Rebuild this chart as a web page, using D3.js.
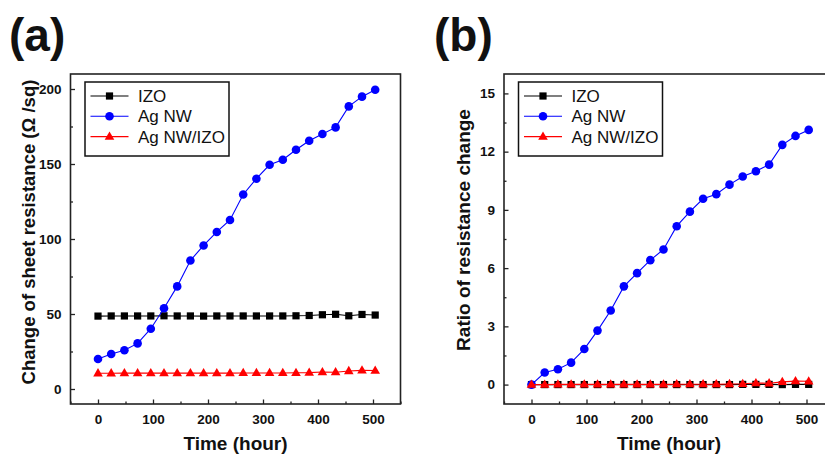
<!DOCTYPE html>
<html lang="en">
<head>
    <meta charset="UTF-8">
    <title>Sheet resistance vs time</title>
    <script src="https://d3js.org/d3.v7.min.js"></script>
    <style>
        body { margin: 0; background: #fff; }
        text { font-family: "Liberation Sans", Arial, sans-serif; }
    </style>
</head>
<body>
    <script>
        // time points (hours), every 24 h
        var hours = [0, 24, 48, 72, 96, 120, 144, 168, 192, 216, 240, 264, 288, 312, 336, 360, 384, 408, 432, 456, 480, 504];

        // (a) change of sheet resistance (ohm/sq)
        var izoA = [48.6, 48.7, 48.7, 48.7, 48.7, 48.8, 48.7, 48.7, 48.6, 48.7, 48.7, 48.7, 48.7, 48.7, 48.7, 48.8, 49.0, 49.5, 49.8, 48.8, 49.7, 49.3];
        var agnwA = [20, 23.3, 25.8, 30.4, 40.2, 53.8, 68.4, 85.7, 95.7, 104.7, 112.7, 129.7, 140.2, 149.5, 152.8, 159.5, 165.5, 170, 174.4, 188.4, 194.9, 199.5];
        var agnwIzoA = [10.5, 10.5, 10.6, 10.6, 10.6, 10.6, 10.6, 10.6, 10.6, 10.6, 10.6, 10.7, 10.7, 10.7, 10.7, 10.8, 10.9, 11.3, 11.2, 12.0, 12.4, 12.3];

        // (b) ratio of resistance change
        var izoB = [0, 0, 0, 0, 0, 0, 0, 0, 0, 0, 0, 0, 0, 0, 0, 0, 0.01, 0.01, 0.01, 0, 0.01, 0.01];
        var agnwB = [0, 0.62, 0.79, 1.13, 1.83, 2.78, 3.82, 5.06, 5.74, 6.41, 6.96, 8.16, 8.91, 9.57, 9.81, 10.30, 10.72, 10.99, 11.33, 12.35, 12.81, 13.12];
        var agnwIzoB = [0, 0, 0.01, 0.01, 0.01, 0.01, 0.01, 0.01, 0.01, 0.01, 0.01, 0.02, 0.02, 0.02, 0.02, 0.03, 0.04, 0.08, 0.07, 0.14, 0.18, 0.17];

        var seriesNames = ['IZO', 'Ag NW', 'Ag NW/IZO'];
        var seriesColors = ['#000000', '#0000ff', '#ff0000'];
        var seriesShapes = ['square', 'circle', 'triangle'];

        var xTicks = [0, 100, 200, 300, 400, 500];
        var xMinor = [-50, 50, 150, 250, 350, 450, 550];
        var yTicksA = [0, 50, 100, 150, 200];
        var yMinorA = [25, 75, 125, 175];
        var yTicksB = [0, 3, 6, 9, 12, 15];
        var yMinorB = [1.5, 4.5, 7.5, 10.5, 13.5];

        var svg = d3.select('body').append('svg')
            .attr('width', 825)
            .attr('height', 455);

        function marker(g, shape, color, cx, cy) {
            if (shape == 'square') {
                g.append('rect').attr('x', cx - 3.6).attr('y', cy - 3.6)
                    .attr('width', 7.2).attr('height', 7.2).attr('fill', color);
            } else if (shape == 'circle') {
                g.append('circle').attr('cx', cx).attr('cy', cy).attr('r', 4.3).attr('fill', color);
            } else {
                var s = 9.6, h = s * 0.866;
                g.append('path')
                    .attr('d', 'M' + cx + ',' + (cy - h * 0.62) + 'L' + (cx + s / 2) + ',' + (cy + h * 0.38) +
                        'L' + (cx - s / 2) + ',' + (cy + h * 0.38) + 'Z')
                    .attr('fill', color);
            }
        }

        function draw_panel(opt) {
            var x = d3.scaleLinear().domain([-50, 550]).range([opt.left, opt.left + 330]);
            var y = d3.scaleLinear().domain(opt.yDomain).range([404, 74]);
            var g = svg.append('g');

            // x axis, ticks inward
            var xa = g.append('g').attr('transform', 'translate(0,404)')
                .call(d3.axisBottom(x).tickValues(xTicks).tickSizeInner(-4.5).tickSizeOuter(0).tickPadding(10));
            g.append('g').attr('transform', 'translate(0,404)')
                .call(d3.axisBottom(x).tickValues(xMinor).tickSizeInner(-2.5).tickSizeOuter(0).tickFormat(''))
                .select('.domain').remove();
            var ya = g.append('g').attr('transform', 'translate(' + opt.left + ',0)')
                .call(d3.axisLeft(y).tickValues(opt.yTicks).tickSizeInner(-4.5).tickSizeOuter(0).tickPadding(9));
            g.append('g').attr('transform', 'translate(' + opt.left + ',0)')
                .call(d3.axisLeft(y).tickValues(opt.yMinor).tickSizeInner(-2.5).tickSizeOuter(0).tickFormat(''))
                .select('.domain').remove();

            g.selectAll('.tick line').attr('stroke', '#222').attr('stroke-width', 1.3);
            g.selectAll('.domain').remove();
            g.selectAll('.tick text')
                .attr('font-size', 13.5).attr('font-weight', 'bold')
                .attr('font-family', '"Liberation Sans", Arial, sans-serif').attr('fill', '#111');
            xa.selectAll('.tick text').attr('dy', '0.71em');

            // frame
            g.append('rect')
                .attr('x', x.range()[0]).attr('y', 74)
                .attr('width', 330).attr('height', 330)
                .attr('fill', 'none').attr('stroke', '#222').attr('stroke-width', 1.6);

            // series
            var line = d3.line()
                .x(function (d, i) { return x(hours[i]); })
                .y(function (d) { return y(d); });
            opt.series.forEach(function (vals, k) {
                var sg = g.append('g');
                sg.append('path').datum(vals)
                    .attr('d', line)
                    .attr('fill', 'none')
                    .attr('stroke', seriesColors[k])
                    .attr('stroke-width', 1.1);
                vals.forEach(function (v, i) {
                    marker(sg, seriesShapes[k], seriesColors[k], x(hours[i]), y(v));
                });
            });

            // legend
            var lx = opt.left + 14.5;
            var lg = g.append('g');
            lg.append('rect')
                .attr('x', lx).attr('y', 82)
                .attr('width', 144).attr('height', 74)
                .attr('fill', '#fff').attr('stroke', '#111').attr('stroke-width', 1.5);
            seriesNames.forEach(function (name, k) {
                var ly = 96 + k * 20.3;
                lg.append('line')
                    .attr('x1', lx + 5.5).attr('x2', lx + 43.5)
                    .attr('y1', ly).attr('y2', ly)
                    .attr('stroke', seriesColors[k]).attr('stroke-width', 1.1);
                marker(lg, seriesShapes[k], seriesColors[k], lx + 24.5, ly);
                lg.append('text')
                    .attr('x', lx + 53).attr('y', ly + 6)
                    .attr('font-size', 17)
                    .attr('fill', '#111')
                    .text(name);
            });

            // axis titles
            svg.append('text')
                .attr('x', opt.left + 165).attr('y', 450)
                .attr('text-anchor', 'middle')
                .attr('font-size', 19).attr('font-weight', 'bold').attr('fill', '#111')
                .text('Time (hour)');
            svg.append('text')
                .attr('transform', 'translate(' + opt.yTitleX + ',' + opt.yTitleY + ') rotate(-90)')
                .attr('text-anchor', 'middle')
                .attr('font-size', opt.yTitleSize).attr('font-weight', 'bold').attr('fill', '#111')
                .text(opt.yTitle);

            // panel letter
            svg.append('text')
                .attr('x', opt.letterX).attr('y', 51)
                .attr('font-size', 46).attr('font-weight', 'bold').attr('fill', '#111')
                .text(opt.letter);
        }

        draw_panel({
            left: 70.5,
            yDomain: [-10, 210],
            yTicks: yTicksA,
            yMinor: yMinorA,
            series: [izoA, agnwA, agnwIzoA],
            yTitle: 'Change of sheet resistance (\u03A9 /sq)',
            yTitleX: 34.5, yTitleY: 232, yTitleSize: 18.5,
            letter: '(a)', letterX: 9
        });

        draw_panel({
            left: 504,
            yDomain: [-1, 16],
            yTicks: yTicksB,
            yMinor: yMinorB,
            series: [izoB, agnwB, agnwIzoB],
            yTitle: 'Ratio of resistance change',
            yTitleX: 470, yTitleY: 230, yTitleSize: 19,
            letter: '(b)', letterX: 434
        });
    </script>
</body>
</html>
